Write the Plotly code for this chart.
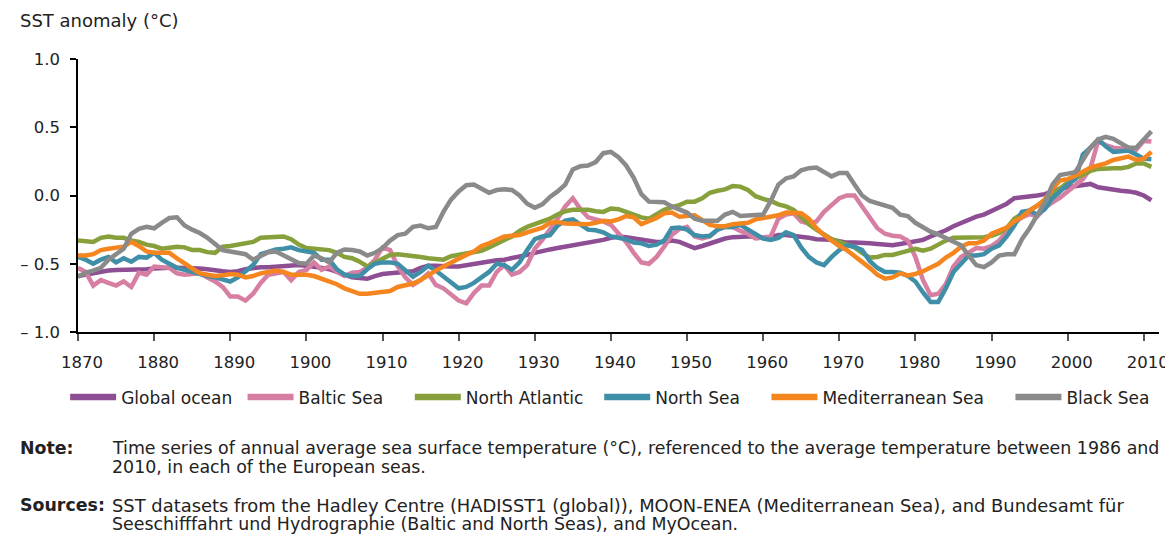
import plotly.graph_objects as go

years = list(range(1870, 2012))

global_ocean = [
    -0.59, -0.58, -0.57, -0.555, -0.55, -0.545, -0.545, -0.545, -0.545, -0.54,
    -0.535, -0.53, -0.53, -0.53, -0.53, -0.53, -0.535, -0.54, -0.55, -0.555,
    -0.56, -0.555, -0.54, -0.53, -0.525, -0.525, -0.52, -0.515, -0.51, -0.51,
    -0.515, -0.52, -0.53, -0.54, -0.56, -0.585, -0.6, -0.605, -0.61, -0.59,
    -0.575, -0.57, -0.565, -0.56, -0.555, -0.53, -0.515, -0.515, -0.52, -0.52,
    -0.52, -0.51, -0.505, -0.495, -0.485, -0.475, -0.47, -0.46, -0.45, -0.435,
    -0.42, -0.405, -0.395, -0.385, -0.375, -0.37, -0.355, -0.345, -0.335, -0.325,
    -0.31, -0.30, -0.305, -0.315, -0.325, -0.33, -0.34, -0.34, -0.33, -0.34,
    -0.36, -0.385, -0.37, -0.35, -0.33, -0.315, -0.305, -0.30, -0.30, -0.30,
    -0.31, -0.305, -0.29, -0.29, -0.295, -0.30, -0.31, -0.32, -0.32, -0.325,
    -0.335, -0.345, -0.345, -0.345, -0.35, -0.355, -0.36, -0.365, -0.355, -0.345,
    -0.335, -0.325, -0.30, -0.28, -0.255, -0.225, -0.20, -0.18, -0.155, -0.14,
    -0.115, -0.09, -0.06, -0.02, -0.015, -0.01, 0.0, 0.01, 0.03, 0.05,
    0.06, 0.07, 0.075, 0.085, 0.06, 0.05, 0.04, 0.035, 0.03, 0.02,
    0.0, -0.035,
]

baltic_sea = [
    -0.53, -0.56, -0.66, -0.62, -0.64, -0.66, -0.63, -0.67, -0.565, -0.58,
    -0.52, -0.525, -0.53, -0.57, -0.58, -0.575, -0.57, -0.60, -0.63, -0.67,
    -0.74, -0.74, -0.77, -0.72, -0.64, -0.58, -0.57, -0.56, -0.62, -0.56,
    -0.545, -0.49, -0.545, -0.52, -0.56, -0.59, -0.565, -0.56, -0.53, -0.47,
    -0.38, -0.40, -0.52, -0.60, -0.655, -0.62, -0.57, -0.655, -0.68, -0.72,
    -0.77, -0.79, -0.715, -0.66, -0.66, -0.56, -0.51, -0.58, -0.56, -0.51,
    -0.39, -0.325, -0.25, -0.17, -0.08, -0.02, -0.10, -0.16, -0.175, -0.19,
    -0.215, -0.28, -0.34, -0.42, -0.49, -0.50, -0.45, -0.375, -0.29, -0.245,
    -0.23, -0.30, -0.315, -0.30, -0.25, -0.23, -0.23, -0.26, -0.28, -0.315,
    -0.31, -0.30, -0.17, -0.14, -0.13, -0.19, -0.205, -0.19, -0.12, -0.07,
    -0.02, 0.0, 0.0, -0.08, -0.16, -0.24, -0.28, -0.295, -0.30, -0.33,
    -0.45, -0.62, -0.73, -0.72, -0.65, -0.52, -0.45, -0.42, -0.385, -0.39,
    -0.37, -0.33, -0.27, -0.20, -0.16, -0.135, -0.155, -0.09, -0.05, -0.015,
    0.03, 0.08, 0.12, 0.20, 0.40, 0.37, 0.35, 0.345, 0.35, 0.335,
    0.40, 0.395,
]

north_atlantic = [
    -0.33, -0.335, -0.34, -0.31, -0.30, -0.31, -0.31, -0.33, -0.34, -0.36,
    -0.37, -0.39, -0.385, -0.375, -0.38, -0.40, -0.40, -0.415, -0.42, -0.375,
    -0.37, -0.36, -0.345, -0.34, -0.31, -0.305, -0.30, -0.30, -0.32, -0.36,
    -0.385, -0.39, -0.395, -0.40, -0.42, -0.45, -0.46, -0.485, -0.52, -0.49,
    -0.46, -0.435, -0.43, -0.435, -0.44, -0.45, -0.46, -0.465, -0.47, -0.445,
    -0.435, -0.42, -0.415, -0.405, -0.38, -0.355, -0.33, -0.30, -0.26, -0.23,
    -0.21, -0.19, -0.17, -0.14, -0.115, -0.105, -0.105, -0.105, -0.115, -0.12,
    -0.095, -0.10, -0.12, -0.14, -0.16, -0.17, -0.14, -0.105, -0.085, -0.07,
    -0.045, -0.045, -0.02, 0.02, 0.035, 0.045, 0.07, 0.065, 0.04, -0.005,
    -0.025, -0.04, -0.065, -0.08, -0.105, -0.16, -0.21, -0.25, -0.29, -0.32,
    -0.34, -0.36, -0.38, -0.42, -0.455, -0.45, -0.435, -0.435, -0.42, -0.405,
    -0.39, -0.405, -0.39, -0.36, -0.33, -0.31, -0.31, -0.31, -0.31, -0.305,
    -0.295, -0.275, -0.24, -0.17, -0.135, -0.11, -0.075, -0.03, 0.01, 0.05,
    0.095, 0.125, 0.15, 0.18, 0.195, 0.20, 0.20, 0.20, 0.21, 0.235,
    0.235, 0.21,
]

north_sea = [
    -0.45, -0.47, -0.50, -0.47, -0.45, -0.49, -0.46, -0.485, -0.45, -0.455,
    -0.42, -0.47, -0.50, -0.53, -0.545, -0.56, -0.58, -0.59, -0.60, -0.615,
    -0.63, -0.60, -0.55, -0.51, -0.43, -0.41, -0.395, -0.39, -0.38, -0.40,
    -0.41, -0.42, -0.47, -0.47, -0.54, -0.58, -0.59, -0.59, -0.54, -0.50,
    -0.49, -0.49, -0.50, -0.55, -0.595, -0.56, -0.515, -0.55, -0.595, -0.64,
    -0.68, -0.67, -0.64, -0.60, -0.56, -0.50, -0.51, -0.545, -0.49, -0.40,
    -0.32, -0.30, -0.29, -0.22, -0.185, -0.175, -0.21, -0.25, -0.255, -0.27,
    -0.30, -0.31, -0.32, -0.345, -0.35, -0.37, -0.36, -0.33, -0.24, -0.235,
    -0.25, -0.29, -0.30, -0.295, -0.25, -0.23, -0.23, -0.215, -0.25, -0.28,
    -0.315, -0.325, -0.31, -0.27, -0.29, -0.38, -0.45, -0.49, -0.51, -0.45,
    -0.40, -0.365, -0.375, -0.40, -0.48, -0.53, -0.56, -0.56, -0.565, -0.59,
    -0.63, -0.71, -0.78, -0.78, -0.68, -0.56, -0.50, -0.44, -0.44, -0.43,
    -0.39, -0.365, -0.30, -0.22, -0.12, -0.11, -0.14, -0.10, -0.02, 0.035,
    0.08, 0.12, 0.30, 0.35, 0.41, 0.36, 0.32, 0.325, 0.33, 0.30,
    0.27, 0.265,
]

mediterranean_sea = [
    -0.44, -0.44, -0.43, -0.40, -0.39, -0.385, -0.375, -0.34, -0.37, -0.41,
    -0.42, -0.42, -0.42, -0.46, -0.50, -0.54, -0.57, -0.58, -0.59, -0.585,
    -0.575, -0.58, -0.60, -0.59, -0.57, -0.56, -0.55, -0.56, -0.58, -0.58,
    -0.58, -0.59, -0.61, -0.63, -0.65, -0.68, -0.70, -0.72, -0.72, -0.715,
    -0.71, -0.70, -0.67, -0.66, -0.645, -0.62, -0.58, -0.55, -0.52, -0.49,
    -0.46, -0.435, -0.41, -0.37, -0.35, -0.325, -0.30, -0.295, -0.29, -0.27,
    -0.255, -0.235, -0.20, -0.195, -0.205, -0.205, -0.205, -0.21, -0.20, -0.185,
    -0.19, -0.175, -0.15, -0.16, -0.21, -0.19, -0.165, -0.13, -0.125, -0.155,
    -0.15, -0.145, -0.18, -0.215, -0.225, -0.225, -0.21, -0.205, -0.20, -0.175,
    -0.165, -0.16, -0.145, -0.125, -0.125, -0.13, -0.17, -0.24, -0.29, -0.33,
    -0.37, -0.40, -0.44, -0.49, -0.53, -0.58, -0.61, -0.60, -0.57, -0.585,
    -0.575, -0.555, -0.53, -0.50, -0.455, -0.42, -0.375, -0.35, -0.35, -0.33,
    -0.28, -0.255, -0.235, -0.19, -0.155, -0.11, -0.075, -0.03, 0.05, 0.11,
    0.12, 0.145, 0.175, 0.205, 0.22, 0.235, 0.26, 0.275, 0.285, 0.26,
    0.27, 0.32,
]

black_sea = [
    -0.595, -0.565, -0.55, -0.53, -0.47, -0.43, -0.39, -0.28, -0.245, -0.23,
    -0.24, -0.20, -0.165, -0.16, -0.22, -0.25, -0.275, -0.31, -0.36, -0.40,
    -0.41, -0.42, -0.43, -0.47, -0.44, -0.415, -0.41, -0.44, -0.47, -0.495,
    -0.50, -0.44, -0.46, -0.49, -0.42, -0.395, -0.40, -0.41, -0.44, -0.42,
    -0.385, -0.33, -0.29, -0.28, -0.23, -0.22, -0.24, -0.23, -0.12, -0.03,
    0.03, 0.075, 0.08, 0.05, 0.02, 0.04, 0.045, 0.04, 0.0, -0.06,
    -0.09, -0.065, -0.01, 0.03, 0.08, 0.19, 0.215, 0.22, 0.245, 0.31,
    0.32, 0.28, 0.22, 0.13, 0.01, -0.045, -0.05, -0.05, -0.08, -0.105,
    -0.125, -0.17, -0.185, -0.185, -0.185, -0.14, -0.12, -0.15, -0.145, -0.145,
    -0.14, -0.04, 0.08, 0.125, 0.14, 0.185, 0.20, 0.205, 0.175, 0.14,
    0.165, 0.165, 0.08, 0.0, -0.04, -0.055, -0.07, -0.09, -0.14, -0.15,
    -0.20, -0.235, -0.265, -0.285, -0.31, -0.34, -0.365, -0.44, -0.51, -0.525,
    -0.49, -0.44, -0.43, -0.43, -0.32, -0.24, -0.15, -0.05, 0.08, 0.15,
    0.16, 0.17, 0.26, 0.35, 0.41, 0.43, 0.415, 0.385, 0.35, 0.35,
    0.41, 0.47,
]

series_names = ["Global ocean", "Baltic Sea", "North Atlantic", "North Sea",
                "Mediterranean Sea", "Black Sea"]
series_values = [global_ocean, baltic_sea, north_atlantic, north_sea,
                 mediterranean_sea, black_sea]
series_colors = ["#8E4E94", "#D77FA3", "#87A03B", "#3F8FA9", "#F5861F", "#8A8A8A"]
# trailing legend spacing per entry (number of no-break spaces)
legend_pad = [1, 4, 2, 4, 4, 2]

x_tick_vals = list(range(1870, 2011, 10))
y_tick_vals = [-1.0, -0.5, 0.0, 0.5, 1.0]
y_tick_text = ["\u2013 1.0", "\u2013 0.5", "0.0", "0.5", "1.0"]

FONT = "Verdana, DejaVu Sans, sans-serif"
TXT = "#222222"
W, H = 1173, 536
OFF = 8  # page body margin
# plot area in window pixels: x 69..1161, y 59..332.5
L = 69 - OFF
T = 59 - OFF
R = W - (1161 - OFF)
B = H - (332.5 - OFF)
PW, PH = W - L - R, H - T - B


def px(x):
    return (x - OFF - L) / PW


def py(y):
    return (H - B - (y - OFF)) / PH


fig = go.Figure()
for name, vals, col in zip(series_names, series_values, series_colors):
    assert len(vals) == len(years), name
    fig.add_trace(go.Scatter(x=years, y=vals, mode="lines", name=name,
                             showlegend=False, legendgroup=name,
                             line=dict(color=col, width=4.5)))
# legend keys (thicker strokes, as in the original key)
for name, col, pad in zip(series_names, series_colors, legend_pad):
    fig.add_trace(go.Scatter(x=[None], y=[None], mode="lines",
                             name=name + "\u00a0" * pad, legendgroup=name,
                             showlegend=True, hoverinfo="skip",
                             line=dict(color=col, width=6.5)))

fig.update_layout(
    width=W, height=H,
    margin=dict(l=L, r=R, t=T, b=B),
    paper_bgcolor="white", plot_bgcolor="white",
    font=dict(family=FONT, size=16, color=TXT),
    showlegend=True,
    legend=dict(orientation="h", x=px(56), xanchor="left", y=py(398),
                yanchor="middle", font=dict(size=17, color=TXT),
                itemwidth=46, tracegroupgap=0, bgcolor="rgba(0,0,0,0)"),
    xaxis=dict(range=[1870, 2012], tickvals=x_tick_vals, showgrid=False,
               zeroline=False, showline=True, linecolor="#000000", linewidth=1.5,
               ticks="outside", ticklen=7, tickcolor="#555555", tickwidth=1.5,
               ticklabelstandoff=7, ticklabelshift=4,
               tickfont=dict(size=16.5, color=TXT)),
    yaxis=dict(range=[-1, 1], tickvals=y_tick_vals, ticktext=y_tick_text,
               showgrid=False, zeroline=False, showline=True,
               linecolor="#000000", linewidth=1.5, ticks="outside", ticklen=6,
               tickcolor="#000000", tickwidth=1.5, ticklabelstandoff=7,
               tickfont=dict(size=16.5, color=TXT)),
)

ann = [
    (8, 20, "SST anomaly (°C)", 18),
    (8, 449, "<b>Note:</b>", 17.4),
    (101, 449, "Time series of annual average sea surface temperature (°C), referenced to the average temperature between 1986 and", 17.4),
    (101, 468, "2010, in each of the European seas.", 17.4),
    (8, 506, "<b>Sources:</b>", 17.4),
    (101, 506, "SST datasets from the Hadley Centre (HADISST1 (global)), MOON-ENEA (Mediterranean Sea), and Bundesamt für", 17.9),
    (101, 525, "Seeschifffahrt und Hydrographie (Baltic and North Seas), and MyOcean.", 17.4),
]
for x0, y0, txt, fs in ann:
    fig.add_annotation(x=px(x0), y=py(y0), xref="paper", yref="paper",
                       xanchor="left", yanchor="middle", text=txt,
                       showarrow=False, font=dict(size=fs, color=TXT))

fig.write_html("out.html")
